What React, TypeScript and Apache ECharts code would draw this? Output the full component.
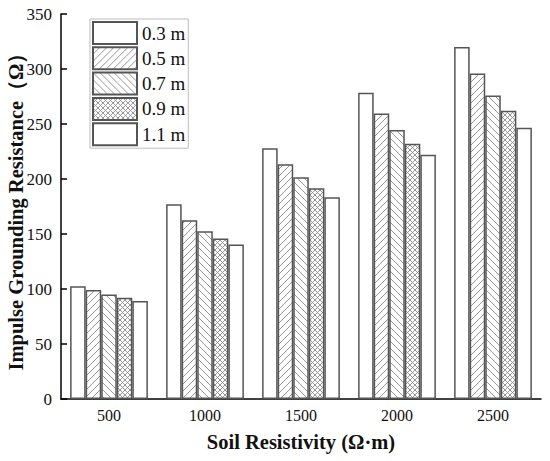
import React, { useEffect, useRef } from "react";
import * as echarts from "echarts";

const categories = ["500", "1000", "1500", "2000", "2500"];
const seriesNames = ["0.3 m", "0.5 m", "0.7 m", "0.9 m", "1.1 m"];
const s03 = [102.5, 177, 228, 278.5, 320];
const s05 = [99, 162.5, 213.5, 259.5, 296];
const s07 = [95, 152.5, 201.5, 244.5, 276];
const s09 = [92, 146, 191.5, 232, 262];
const s11 = [89, 140.5, 183.5, 222, 246.5];
const seriesValues = [s03, s05, s07, s09, s11];
const patternKinds = ["plain", "slash", "backslash", "cross", "plain"];

function makePattern(kind: string): any {
  if (kind === "plain") return "#ffffff";
  const size = kind === "cross" ? 5 : 7;
  const c = document.createElement("canvas");
  c.width = size;
  c.height = size;
  const ctx = c.getContext("2d")!;
  ctx.fillStyle = "#ffffff";
  ctx.fillRect(0, 0, size, size);
  ctx.strokeStyle = "#8a8a8a";
  ctx.lineWidth = 0.9;
  const slash = () => {
    ctx.beginPath();
    for (let k = -1; k <= 1; k++) {
      ctx.moveTo(k * size, size);
      ctx.lineTo(k * size + size, 0);
    }
    ctx.stroke();
  };
  const back = () => {
    ctx.beginPath();
    for (let k = -1; k <= 1; k++) {
      ctx.moveTo(k * size, 0);
      ctx.lineTo(k * size + size, size);
    }
    ctx.stroke();
  };
  if (kind === "slash") slash();
  if (kind === "backslash") back();
  if (kind === "cross") {
    slash();
    back();
  }
  return { image: c, repeat: "repeat" };
}

export default function App() {
  const ref = useRef<HTMLDivElement>(null);
  useEffect(() => {
    if (!ref.current) return;
    const chart = echarts.init(ref.current, null, { renderer: "svg" });
    const font = "Liberation Serif";
    chart.setOption({
      animation: false,
      backgroundColor: "#ffffff",
      textStyle: { fontFamily: font },
      grid: { left: 61, right: 9, top: 14, bottom: 62, containLabel: false, outerBoundsMode: "none" },
      legend: {
        orient: "vertical",
        left: 90,
        top: 19,
        padding: [2, 3, 2, 2],
        icon: "rect",
        itemWidth: 44,
        itemHeight: 22,
        itemGap: 1.3,
        borderColor: "#bdbdbd",
        borderWidth: 1,
        data: seriesNames,
        textStyle: { fontFamily: font, fontSize: 19, lineHeight: 22, color: "#111" },
      },
      xAxis: {
        type: "category",
        data: categories,
        name: "Soil Resistivity (Ω·m)",
        nameLocation: "middle",
        nameGap: 32,
        nameMoveOverlap: false,
        nameTextStyle: { fontFamily: font, fontSize: 20.5, fontWeight: "bold", color: "#111" },
        axisLine: { lineStyle: { color: "#000", width: 1.5 } },
        axisTick: { inside: true, alignWithLabel: true, length: 6, lineStyle: { color: "#000", width: 1.5 } },
        axisLabel: { fontFamily: font, fontSize: 16, color: "#111", margin: 8 },
        splitLine: { show: false },
      },
      yAxis: {
        type: "value",
        min: 0,
        max: 350,
        interval: 50,
        name: "Impulse Grounding Resistance（Ω）",
        nameLocation: "middle",
        nameGap: 35,
        nameMoveOverlap: false,
        nameTextStyle: { fontFamily: font, fontSize: 20.5, fontWeight: "bold", color: "#111" },
        axisLine: { show: true, lineStyle: { color: "#000", width: 1.5 } },
        axisTick: { show: true, inside: true, length: 6, lineStyle: { color: "#000", width: 1.5 } },
        axisLabel: { fontFamily: font, fontSize: 17, color: "#111", margin: 9 },
        splitLine: { show: false },
      },
      series: seriesNames.map((name, i) => ({
        name,
        type: "bar",
        data: seriesValues[i],
        barGap: "0%",
        barCategoryGap: "19%",
        itemStyle: {
          color: makePattern(patternKinds[i]),
          borderColor: "#555",
          borderWidth: 1.5,
        },
      })),
    });
    return () => chart.dispose();
  }, []);
  return (
    <div
      ref={ref}
      style={{ position: "fixed", left: 0, top: 0, width: 550, height: 461 }}
    />
  );
}
